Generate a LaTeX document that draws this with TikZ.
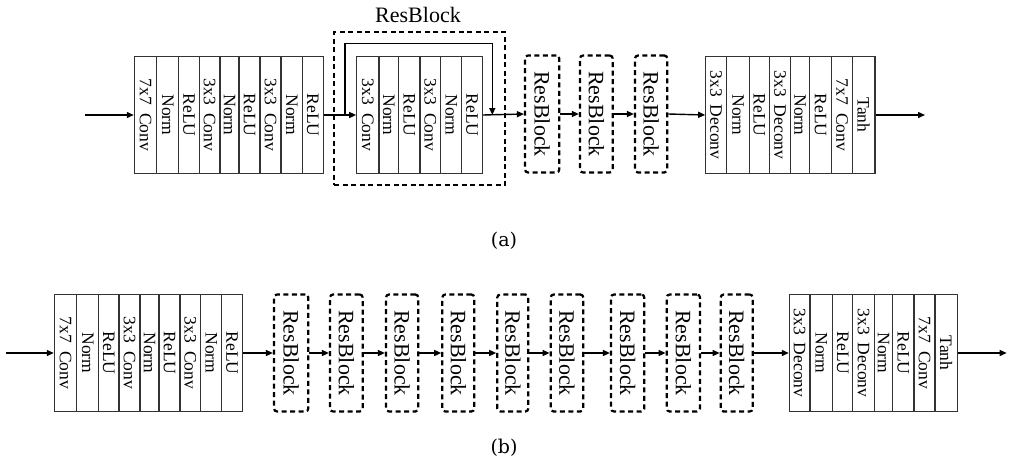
\documentclass[tikz,border=0pt]{standalone}
\usepackage{fontspec}
\setmainfont{Liberation Serif}
\newfontfamily\capfont{DejaVu Serif}
\usetikzlibrary{arrows.meta}
\newcommand\wsp{\hspace{.45em}}
\begin{document}
\begin{tikzpicture}[x=1pt,y=-1pt,
  cell/.style={draw=black!80, line width=1.1pt, inner sep=0pt, minimum height=117pt},
  celltext/.style={rotate=-90, font=\fontsize{17.5}{17.5}\selectfont, inner sep=0pt},
  rbox/.style={draw, line width=2.2pt, dash pattern=on 5pt off 3.5pt, rounded corners=3pt, inner sep=0pt, minimum height=117pt},
  rtext/.style={rotate=-90, font=\fontsize{22}{22}\selectfont, inner sep=0pt},
  obox/.style={draw, line width=2.2pt, dash pattern=on 5pt off 3.5pt, inner sep=0pt},
  arr/.style={line width=1.4pt, -{Triangle[length=7pt,width=6pt]}},
  captext/.style={font=\capfont\fontsize{19}{19}\selectfont, inner sep=0pt},
]
\useasboundingbox (0,0) rectangle (1010,464);

% ================= (a) =================
% encoder
\foreach \xa/\xb/\t [count=\i] in {
  134.3/156.7/{7x7\wsp Conv}, 156.7/178.7/Norm, 178.7/199.3/ReLU,
  199.3/220/{3x3\wsp Conv}, 220/239/Norm, 239/260/ReLU,
  260/281/{3x3\wsp Conv}, 281/302.3/Norm, 302.3/323.3/ReLU}{
  \node[cell, minimum width={(\xb-\xa)*1pt}] (ea\i) at ({(\xa+\xb)/2},115) {};
  \node[celltext] at (ea\i) {\t};
}
% inner resblock
\foreach \xa/\xb/\t [count=\i] in {
  356.7/379/{3x3\wsp Conv}, 379/398.3/Norm, 398.3/420/ReLU,
  420/440.7/{3x3\wsp Conv}, 440.7/461.7/Norm, 461.7/482.3/ReLU}{
  \node[cell, minimum width={(\xb-\xa)*1pt}] (ri\i) at ({(\xa+\xb)/2},115) {};
  \node[celltext] at (ri\i) {\t};
}
\node[obox, minimum width=171pt, minimum height=153pt] (outer) at (419.5,108.5) {};
\node[font=\fontsize{22}{22}\selectfont, inner sep=0pt] (rlabel) at (418,15) {ResBlock};
% small resblocks
\foreach \xa/\xb [count=\i] in {525/559.3, 580/612.7, 635/667.3}{
  \node[rbox, minimum width={(\xb-\xa)*1pt}] (rs\i) at ({(\xa+\xb)/2},114) {};
  \node[rtext] at (rs\i) {ResBlock};
}
% decoder
\foreach \xa/\xb/\t [count=\i] in {
  705.7/726.7/{3x3\wsp Deconv}, 726.7/749.3/Norm, 749.3/769.3/ReLU,
  769.3/790.7/{3x3\wsp Deconv}, 790.7/809.3/Norm, 809.3/831.7/ReLU,
  831.7/852.3/{7x7\wsp Conv}, 852.3/875/Tanh}{
  \node[cell, minimum width={(\xb-\xa)*1pt}] (da\i) at ({(\xa+\xb)/2},115) {};
  \node[celltext] at (da\i) {\t};
}
% connectors (a)
\coordinate (ina) at (85,115);
\coordinate (outa) at (925,115);
\coordinate (sk) at (345,115);
\coordinate (sj) at (492.3,115);
\draw[arr] (ina) -- (ea1.west);
\draw[arr] (ea9.east) -- (ri1.west);
\draw[arr] (sk) -- ++(0,-71.7) -| (sj);
\draw[arr] (ri6.east) -- (rs1.west);
\draw[arr] (rs1.east) -- (rs2.west);
\draw[arr] (rs2.east) -- (rs3.west);
\draw[arr] (rs3.east) -- (da1.west);
\draw[arr] (da8.east) -- (outa);
\node[captext] (capa) at (504,241) {(a)};

% ================= (b) =================
\foreach \xa/\xb/\t [count=\i] in {
  54.3/76.7/{7x7\wsp Conv}, 76.7/98.7/Norm, 98.7/119/ReLU,
  119/140/{3x3\wsp Conv}, 140/159/Norm, 159/180/ReLU,
  180/200.7/{3x3\wsp Conv}, 200.7/221.7/Norm, 221.7/242.3/ReLU}{
  \node[cell, minimum width={(\xb-\xa)*1pt}] (eb\i) at ({(\xa+\xb)/2},353) {};
  \node[celltext] at (eb\i) {\t};
}
\foreach \xa/\xb [count=\i] in {274/308.3, 330/362.7, 386/418.3, 442.3/474.3,
  497.3/528.3, 550.7/583.3, 611/644.3, 666.7/700, 720.7/752.7}{
  \node[rbox, minimum width={(\xb-\xa)*1pt}] (rb\i) at ({(\xa+\xb)/2},353) {};
  \node[rtext] at (rb\i) {ResBlock};
}
\foreach \xa/\xb/\t [count=\i] in {
  789.3/810/{3x3\wsp Deconv}, 810/832.7/Norm, 832.7/852.7/ReLU,
  852.7/874.3/{3x3\wsp Deconv}, 874.3/892.7/Norm, 892.7/914/ReLU,
  914/935/{7x7\wsp Conv}, 935/957.3/Tanh}{
  \node[cell, minimum width={(\xb-\xa)*1pt}] (db\i) at ({(\xa+\xb)/2},353) {};
  \node[celltext] at (db\i) {\t};
}
\coordinate (inb) at (6,353);
\coordinate (outb) at (1006.7,353);
\draw[arr] (inb) -- (eb1.west);
\draw[arr] (eb9.east) -- (rb1.west);
\foreach \i [evaluate=\i as \j using int(\i+1)] in {1,...,8}{
  \draw[arr] (rb\i.east) -- (rb\j.west);
}
\draw[arr] (rb9.east) -- (db1.west);
\draw[arr] (db8.east) -- (outb);
\node[captext] (capb) at (504,448) {(b)};
\end{tikzpicture}
\end{document}
